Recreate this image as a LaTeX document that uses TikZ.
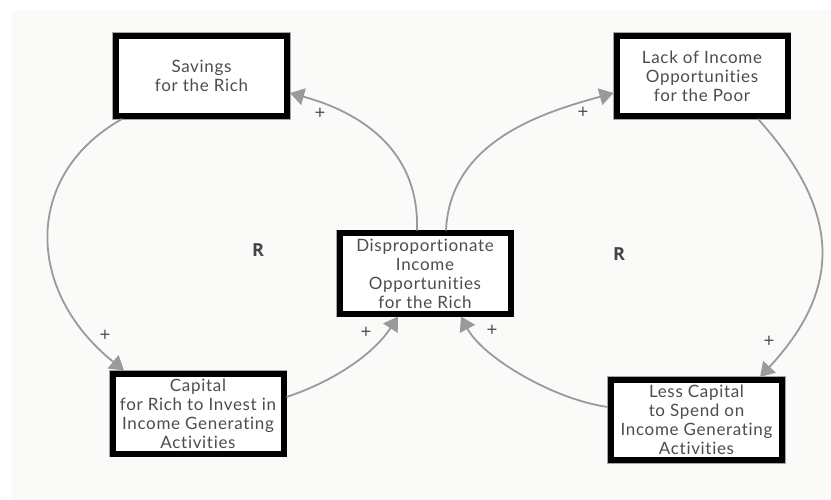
\documentclass[tikz,border=0pt]{standalone}
\usepackage{fontspec}
\setmainfont{Lato}[LetterSpace=4,Ligatures={NoCommon}]
\newfontfamily\plainsans{Open Sans}
\usetikzlibrary{arrows.meta}
\definecolor{panelbg}{HTML}{FAFAF9}
\definecolor{linkgray}{HTML}{9A9A9A}
\definecolor{textgray}{HTML}{4D4D4D}
\definecolor{rgray}{HTML}{444444}
\begin{document}
\begin{tikzpicture}[x=1pt,y=-1pt,
  var/.style={draw=black, line width=6pt, fill=white, outer sep=3pt,
    preaction={draw=black!35, line width=7.4pt},
    minimum width=171pt, minimum height=80pt, inner sep=0pt,
    align=center, text=textgray, font=\fontsize{17}{19}\selectfont},
  link/.style={draw=linkgray, line width=1.8pt, -{Triangle[length=14pt,width=17pt]}},
  pol/.style={text=textgray, font=\plainsans\fontsize{19}{19}\selectfont},
  loop/.style={text=rgray, font=\plainsans\fontsize{18}{18}\selectfont\bfseries}]
% canvas and panel
\useasboundingbox (0,0) rectangle (831,500);
\fill[white] (0,0) rectangle (831,500);
\fill[panelbg] (12,10) rectangle (831,500);

% variables
\node[var] (S) at (201.5,76) {Savings\\for the Rich};
\node[var] (D) at (425,273.5) {Disproportionate\\Income\\Opportunities\\for the Rich};
\node[var] (C) at (198,413.5) {Capital\\for Rich to Invest in\\Income Generating\\Activities};
\node[var] (L) at (702,76) {Lack of Income\\Opportunities\\for the Poor};
\node[var] (Q) at (696.5,420) {Less Capital\\to Spend on\\Income Generating\\Activities};

% causal links
\draw[link] ([xshift=-8pt]D.north) .. controls (420,140) and (345,108) .. ([yshift=-17pt]S.east);
\draw[link] ([xshift=-79.5pt]S.south) .. controls (24,174) and (24,290) .. ([xshift=-74pt]C.north);
\draw[link] ([yshift=16.5pt]C.east) .. controls (332,382) and (373,355) .. ([xshift=-27pt]D.south);
\draw[link] ([xshift=21pt]D.north) .. controls (450,140) and (545,112) .. ([yshift=-17pt]L.west);
\draw[link] ([xshift=56pt]L.south) .. controls (842,212) and (842,289) .. ([xshift=63.5pt]Q.north);
\draw[link] ([yshift=13pt]Q.west) .. controls (555,400) and (483,358) .. ([xshift=36pt]D.south);

% polarity and loop labels
\node[pol] (p1) at (320,114) {+};
\node[pol] (p2) at (105,336) {+};
\node[pol] (p3) at (366,333) {+};
\node[pol] (p4) at (583,113) {+};
\node[pol] (p5) at (769,342) {+};
\node[pol] (p6) at (492,331) {+};
\node[loop] (r1) at (258,250) {R};
\node[loop] (r2) at (619,254) {R};
\end{tikzpicture}
\end{document}
